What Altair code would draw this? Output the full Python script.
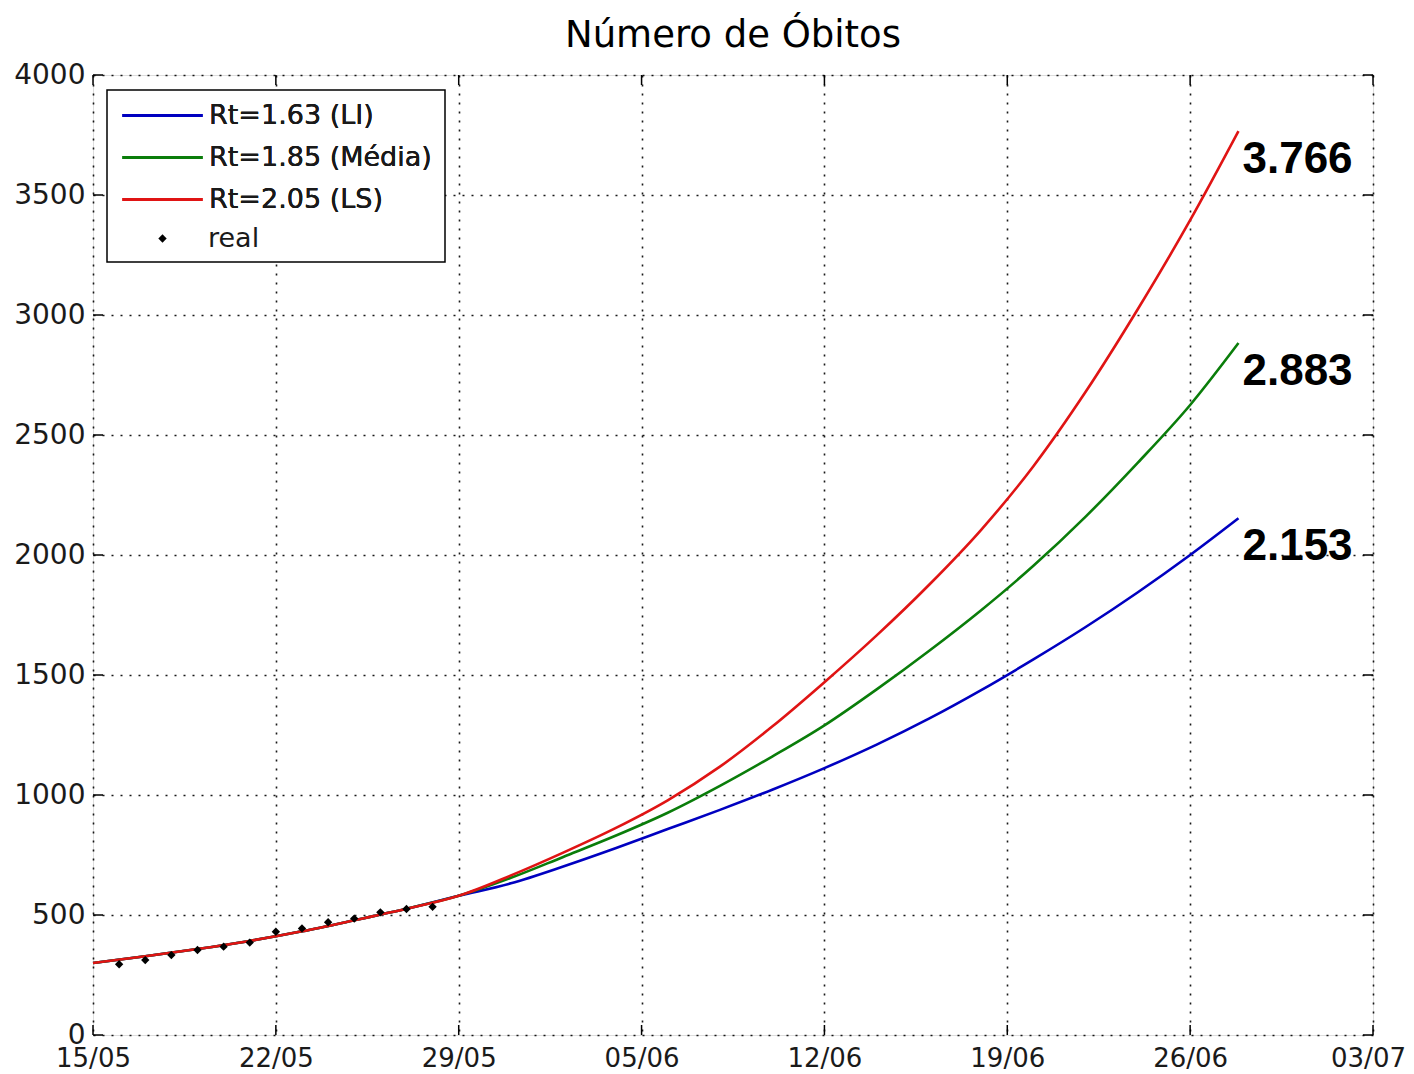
import altair as alt
import pandas as pd

# ---------------- data ----------------
rotulos_x = ["15/05", "22/05", "29/05", "05/06", "12/06", "19/06", "26/06", "03/07"]
series = ["Rt=1.63 (LI)", "Rt=1.85 (Média)", "Rt=2.05 (LS)"]
cores = ["#0000c0", "#0a7d0a", "#e01414"]

dias_modelo = [0, 2, 4, 6, 8, 10, 12, 14, 16, 18, 20, 22, 24, 26, 28, 30, 32, 34, 36, 38, 40, 42, 43.85]
inicio_comum = [300, 328, 358, 392, 432, 478, 526, 580]
li = inicio_comum + [632, 702, 778, 858, 938, 1022, 1112, 1210, 1318, 1437, 1565, 1700, 1845, 2000, 2153]
media = inicio_comum + [655, 742, 830, 926, 1038, 1160, 1290, 1440, 1600, 1770, 1955, 2160, 2385, 2625, 2883]
ls = inicio_comum + [665, 760, 862, 978, 1118, 1285, 1470, 1665, 1875, 2105, 2370, 2680, 3025, 3395, 3766]

dias_real = [1, 2, 3, 4, 5, 6, 7, 8, 9, 10, 11, 12, 13]
obitos_real = [295, 312, 333, 354, 368, 385, 430, 444, 470, 485, 511, 525, 534]

rotulos_finais = ["2.153", "2.883", "3.766"]

y_ticks = [0, 500, 1000, 1500, 2000, 2500, 3000, 3500, 4000]
x_ticks = [0, 7, 14, 21, 28, 35, 42, 49]

# ---------------- tables ----------------
rows = []
for nome, vals in zip(series, [li, media, ls]):
    for d, v in zip(dias_modelo, vals):
        rows.append({"dia": d, "valor": v, "serie": nome})
df_lines = pd.DataFrame(rows)
df_real = pd.DataFrame({"dia": dias_real, "valor": obitos_real, "serie": ["real"] * len(dias_real)})
df_end = pd.DataFrame({
    "dia": [dias_modelo[-1]] * 3,
    "valor": [li[-1], media[-1], ls[-1]],
    "texto": rotulos_finais,
})
df_yt = pd.DataFrame({"valor": y_ticks})
df_xt = pd.DataFrame({"dia": x_ticks})

W, H = 1280, 960
FONT = "DejaVu Sans"
TXT = "#1a1a1a"

label_expr = "[" + ",".join("'%s'" % s for s in rotulos_x) + "][round(datum.value/7)]"

xscale = alt.Scale(domain=[0, 49], nice=False, zero=False)
yscale = alt.Scale(domain=[0, 4000], nice=False)
xaxis = alt.Axis(values=x_ticks, labelExpr=label_expr, title=None, grid=True,
                 domain=False, ticks=False, labelPadding=10, labelFontSize=26,
                 labelFont=FONT, labelColor=TXT, gridColor="black", gridDash=[2, 7],
                 gridWidth=1.6, gridOpacity=0.9, labelFlush=False, labelOverlap=False,
                 labelOffset={"condition": {"test": "datum.value == 49", "value": -5}, "value": 0})
yaxis = alt.Axis(values=y_ticks, title=None, grid=True, domain=False, ticks=False,
                 labelPadding=8, labelFontSize=28, labelFont=FONT, labelColor=TXT,
                 gridColor="black", gridDash=[2, 7], gridWidth=1.6, gridOpacity=0.9,
                 labelFlush=False, labelOverlap=False, format="d")

X = alt.X("dia:Q", scale=xscale, axis=xaxis)
Y = alt.Y("valor:Q", scale=yscale, axis=yaxis)

color_scale = alt.Scale(domain=series, range=cores)
color_legend = alt.Legend(title=None, orient="none", legendX=26, legendY=27,
                          symbolType="M-1,0H7", symbolSize=400, symbolStrokeWidth=3,
                          labelFontSize=27, labelFont=FONT, labelColor=TXT,
                          labelLimit=500, rowPadding=14, labelOffset=63, padding=0)

frame = alt.Chart(pd.DataFrame({"k": [0]})).mark_rect(
    fill="white", stroke="black", strokeWidth=1.5
).encode(x=alt.value(14), x2=alt.value(352), y=alt.value(15), y2=alt.value(187))

line_layers = []
for nome in series:
    line_layers.append(
        alt.Chart(df_lines[df_lines["serie"] == nome]).mark_line(
            strokeWidth=2.6, interpolate="monotone"
        ).encode(x=X, y=Y, color=alt.Color("serie:N", scale=color_scale, legend=color_legend))
    )

points = alt.Chart(df_real).mark_point(filled=True, size=70, color="black", opacity=1).encode(
    x=X, y=Y,
    shape=alt.Shape("serie:N", scale=alt.Scale(domain=["real"], range=["diamond"]),
                    legend=alt.Legend(title=None, orient="none", legendX=56, legendY=150,
                                      labelFontSize=27, labelFont=FONT, labelColor=TXT,
                                      symbolFillColor="black", symbolStrokeColor="black",
                                      symbolSize=70, labelOffset=32, padding=0)),
)

labels = alt.Chart(df_end).mark_text(
    align="left", baseline="middle", dx=4, dy=29, fontSize=44, fontWeight="bold",
    font="Liberation Sans", color="black"
).encode(x=X, y=Y, text="texto:N")

tick_left = alt.Chart(df_yt).mark_rule(color="black", strokeWidth=1.5).encode(
    y=Y, x=alt.value(0), x2=alt.value(10))
tick_right = alt.Chart(df_yt).mark_rule(color="black", strokeWidth=1.5).encode(
    y=Y, x=alt.value(W - 10), x2=alt.value(W))
tick_bottom = alt.Chart(df_xt).mark_rule(color="black", strokeWidth=1.5).encode(
    x=X, y=alt.value(H - 10), y2=alt.value(H))
tick_top = alt.Chart(df_xt).mark_rule(color="black", strokeWidth=1.5).encode(
    x=X, y=alt.value(0), y2=alt.value(10))

chart = alt.layer(
    tick_left, tick_right, tick_bottom, tick_top,
    *line_layers, points, labels, frame
).resolve_legend(color="independent", shape="independent").properties(
    width=W, height=H,
    title=alt.TitleParams("Número de Óbitos", fontSize=37, font=FONT, fontWeight="normal",
                          color="black", anchor="middle", offset=6),
    autosize=alt.AutoSizeParams(type="none"),
    padding={"left": 85, "top": 67, "right": 33, "bottom": 40},
).configure_view(stroke="black", strokeWidth=1.6).configure(background="white")

chart.save("out.html", embed_options={"renderer": "svg", "actions": False})
